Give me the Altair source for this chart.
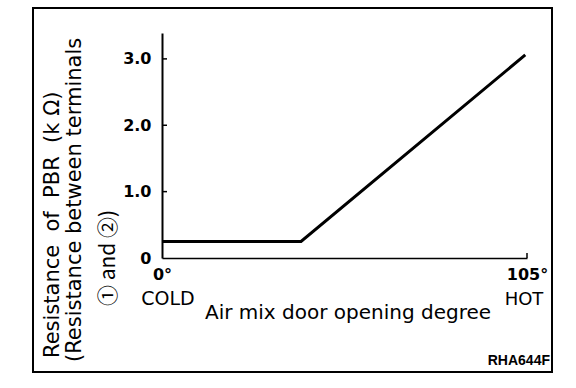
import altair as alt
import pandas as pd

# ---- data ----
angle_deg = [0, 40, 104.5]
resistance_kohm = [0.25, 0.25, 3.06]
y_tick_values = [0, 1, 2, 3]
x_tick_values = [0, 105]
x_end_labels = ["COLD", "HOT"]
y_title_lines = [
    "Resistance\u00a0 of\u00a0 PBR\u00a0 (k \u03a9)",
    "(Resistance between terminals",
    "\u2460 and \u2461)",
]
x_title = "Air mix door opening degree"
figure_code = "RHA644F"

W, H = 365, 225
NUM_FONT = "DejaVu Sans"
TXT_FONT = "DejaVu Sans"

line_df = pd.DataFrame({"angle": angle_deg, "r": resistance_kohm})
x_scale = alt.Scale(domain=[0, 105], nice=False, zero=False)
y_scale = alt.Scale(domain=[0, 3.39], nice=False)

x_axis = alt.Axis(
    values=x_tick_values,
    labelExpr="datum.value + '\u00b0'",
    labelFont=NUM_FONT, labelFontWeight="bold", labelFontSize=16,
    labelColor="black", labelPadding=8, labelOverlap=False, labelFlush=False,
    ticks=False, tickSize=0, grid=False,
    domainColor="black", domainWidth=1.5,
    title=x_title, titleFont=TXT_FONT, titleFontSize=20, titleFontWeight="normal",
    titleColor="black", titleX=185.5, titleY=60, titleBaseline="alphabetic",
    titleAlign="center",
)
y_axis = alt.Axis(
    values=y_tick_values,
    labelExpr="datum.value == 0 ? '0' : format(datum.value, '.1f')",
    labelFont=NUM_FONT, labelFontWeight="bold", labelFontSize=16,
    labelColor="black", labelPadding=11, labelOverlap=False,
    ticks=False, tickSize=0, grid=False,
    domainColor="black", domainWidth=2,
    title="",
)

X = lambda: alt.X("angle:Q", scale=x_scale, axis=x_axis, title=x_title)
Y = lambda: alt.Y("r:Q", scale=y_scale, axis=y_axis, title="")

line = alt.Chart(line_df).mark_line(color="black", strokeWidth=3).encode(x=X(), y=Y())

ytick_df = pd.DataFrame({"r": y_tick_values[1:]})
yticks = alt.Chart(ytick_df).mark_rule(color="black", strokeWidth=1.5).encode(
    y=Y(), x=alt.value(0), x2=alt.value(5),
)
xtick_df = pd.DataFrame({"angle": x_tick_values[1:]})
xticks = alt.Chart(xtick_df).mark_rule(color="black", strokeWidth=1.5).encode(
    x=X(), y=alt.value(H), y2=alt.value(H - 5),
)

cold_df = pd.DataFrame({"angle": [x_tick_values[0]], "t": [x_end_labels[0]]})
hot_df = pd.DataFrame({"angle": [x_tick_values[1]], "t": [x_end_labels[1]]})
cold = alt.Chart(cold_df).mark_text(font=TXT_FONT, fontSize=19, color="black",
                                    fontWeight="normal", baseline="alphabetic", dx=6).encode(
    x=X(), y=alt.value(272), text="t:N")
hot = alt.Chart(hot_df).mark_text(font=TXT_FONT, fontSize=18, color="black",
                                  fontWeight="normal", baseline="alphabetic", dx=-3).encode(
    x=X(), y=alt.value(272), text="t:N")

def ytitle(i, xpos, ypos, font=TXT_FONT, size=21):
    df = pd.DataFrame({"t": [y_title_lines[i]]})
    return alt.Chart(df).mark_text(font=font, fontSize=size, color="black",
                                   angle=270, align="left", baseline="middle").encode(
        x=alt.value(xpos), y=alt.value(ypos), text="t:N")

t1 = ytitle(0, -109, 325)
t2 = ytitle(1, -87, 329)
t3 = ytitle(2, -53, 273, font="Noto Sans CJK JP", size=21)

code_df = pd.DataFrame({"t": [figure_code]})
code = alt.Chart(code_df).mark_text(font="Liberation Sans", fontWeight="bold",
                                    fontSize=14, color="black", align="right",
                                    baseline="alphabetic").encode(
    x=alt.value(388), y=alt.value(332), text="t:N")

frame = alt.Chart(pd.DataFrame({"k": [0]})).mark_rect(
    fill=None, stroke="black", strokeWidth=2).encode(
    x=alt.value(-129), x2=alt.value(390), y=alt.value(-25), y2=alt.value(339))

chart = alt.layer(line, yticks, xticks, cold, hot, t1, t2, t3, code, frame).properties(
    width=W, height=H,
    padding={"left": 162, "top": 33, "right": 49, "bottom": 130},
    autosize=alt.AutoSizeParams(type="none"),
    background="white",
).configure_view(stroke=None)

chart.save("out.html", embed_options={"renderer": "svg", "actions": False})
